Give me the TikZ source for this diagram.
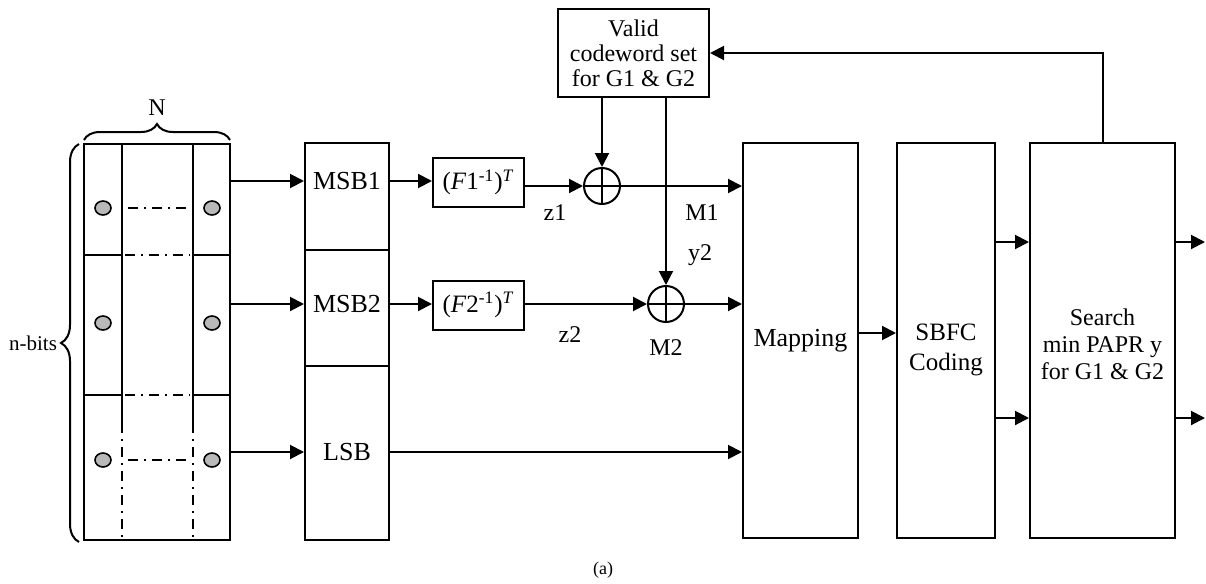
\documentclass[tikz,border=0pt]{standalone}
\usepackage{fontspec}
\setmainfont{Liberation Serif}
\usetikzlibrary{arrows.meta,decorations.pathreplacing,shapes.geometric}

\begin{document}
\begin{tikzpicture}[x=0.5pt,y=-0.5pt,line width=1pt,
  >={Triangle[length=7pt,width=7pt]},
  box/.style={draw,inner sep=0pt,align=center,font=\fontsize{13}{13.5}\selectfont},
  txt/.style={inner sep=0pt,align=center,font=\fontsize{12}{12.5}\selectfont},
  bit/.style={draw,ellipse,fill=gray!55,minimum width=8pt,minimum height=7pt,inner sep=0pt,line width=0.8pt},
  xor/.style={draw,circle,minimum size=18pt,inner sep=0pt,
    path picture={\draw (path picture bounding box.north) -- (path picture bounding box.south)
      (path picture bounding box.west) -- (path picture bounding box.east);}},
  dd/.style={dash pattern=on 5pt off 3pt on 1pt off 3pt}]
\useasboundingbox (0,0) rectangle (1206,584);
% bit matrix
\node[draw,minimum width=73pt,minimum height=198pt,inner sep=0pt] (mat) at (157,342) {};
\draw (122,144) -- (122,423) (193,144) -- (193,423);
\draw[dd] (122,423) -- (122,540) (193,423) -- (193,540);
\foreach \y in {255,395}{
  \draw (84,\y) -- (122,\y) (193,\y) -- (230,\y);
  \draw[dd] (125,\y) -- (190,\y);
}
\foreach \y [count=\i] in {208,323,460}{
  \node[bit] (bl\i) at (103,\y) {};
  \node[bit] (br\i) at (212,\y) {};
}
\foreach \i in {1,3} \draw[dd,shorten <=8pt,shorten >=8pt] (bl\i) -- (br\i);
\draw[decorate,decoration={brace,amplitude=8pt}] (84,140) -- (230,140);
\node[txt] (nlab) at (157,108) {N};
\draw[decorate,decoration={brace,amplitude=9pt}] (79,542) -- (79,144);
\node[txt,font=\fontsize{10.5}{12}\selectfont] (nbits) at (33,343) {n-bits};
% MSB / LSB split
\node[box,minimum width=42pt,minimum height=53.5pt] (msb1) at (347,196.5) {};
\node[box,minimum width=42pt,minimum height=58pt] (msb2) at (347,308) {};
\node[box,minimum width=42pt,minimum height=87pt] (lsb) at (347,453) {};
\node[box,draw=none] (msb1t) at (347,181) {MSB1};
\node[box,draw=none] (msb2t) at (347,304) {MSB2};
\node[box,draw=none] (lsbt) at (347,452) {LSB};
\foreach \t/\b in {msb1t/msb1,msb2t/msb2,lsbt/lsb}
  \draw[->] (\t -| mat.east) -- (\t -| \b.west);
% transforms and xor
\node[box,minimum width=45.5pt,minimum height=24.5pt,font=\fontsize{12.5}{13}\selectfont] (f1) at (478.5,182.5)
  {(\textit{F}1\textsuperscript{-1})\textsuperscript{\textit{T}}};
\node[box,minimum width=45.5pt,minimum height=24.5pt,font=\fontsize{12.5}{13}\selectfont] (f2) at (478.5,305)
  {(\textit{F}2\textsuperscript{-1})\textsuperscript{\textit{T}}};
\node[xor] (op1) at (602,186) {};
\node[xor] (op2) at (666,304) {};
\node[box,minimum width=75.5pt,minimum height=44pt,font=\fontsize{12}{12.5}\selectfont] (valid) at (633.5,53)
  {Valid\\codeword set\\for G1 \& G2};
% right blocks
\node[box,minimum width=57.5pt,minimum height=197.5pt] (map) at (800.5,340.5) {Mapping};
\node[box,minimum width=49pt,minimum height=197.5pt] (sbfc) at (946,340.5) {};
\node[box,draw=none,font=\fontsize{12.5}{15}\selectfont] (sbfct) at (946,350) {SBFC\\Coding};
\node[box,minimum width=72.5pt,minimum height=197.5pt] (search) at (1102.5,340.5) {};
\node[box,draw=none,font=\fontsize{12}{13.5}\selectfont] (searcht) at (1102.5,344)
  {Search\\min PAPR y\\for G1 \& G2};
\coordinate (mrow) at (0,333);
\coordinate (row1) at (0,242);
\coordinate (row2) at (0,418);
\coordinate (out) at (1205,0);
\draw[->] (msb1t -| msb1.east) -- (msb1t -| f1.west);
\draw[->] (msb2t -| msb2.east) -- (msb2t -| f2.west);
\draw[->] (op1 -| f1.east) -- (op1);
\draw[->] (op2 -| f2.east) -- (op2);
\draw[->] (valid.south -| op1) -- (op1);
\draw[->] (valid.south -| op2) -- (op2);
\draw[->] (op1) -- (op1 -| map.west);
\draw[->] (op2) -- (op2 -| map.west);
\draw[->] (lsbt -| lsb.east) -- (lsbt -| map.west);
\draw[->] (mrow -| map.east) -- (mrow -| sbfc.west);
\foreach \r in {row1,row2}{
  \draw[->] (\r -| sbfc.east) -- (\r -| search.west);
  \draw[->] (\r -| search.east) -- (\r -| out);
}
\draw[->] (search.north) |- (valid.east);
% signal labels
\node[txt] (z1) at (555,213) {z1};
\node[txt] (m1) at (702,213) {M1};
\node[txt] (y2) at (700,255) {y2};
\node[txt] (z2) at (570,335) {z2};
\node[txt] (m2) at (666,348) {M2};
\node[txt,font=\fontsize{9}{10}\selectfont] (cap) at (603,570) {(a)};
\end{tikzpicture}
\end{document}
